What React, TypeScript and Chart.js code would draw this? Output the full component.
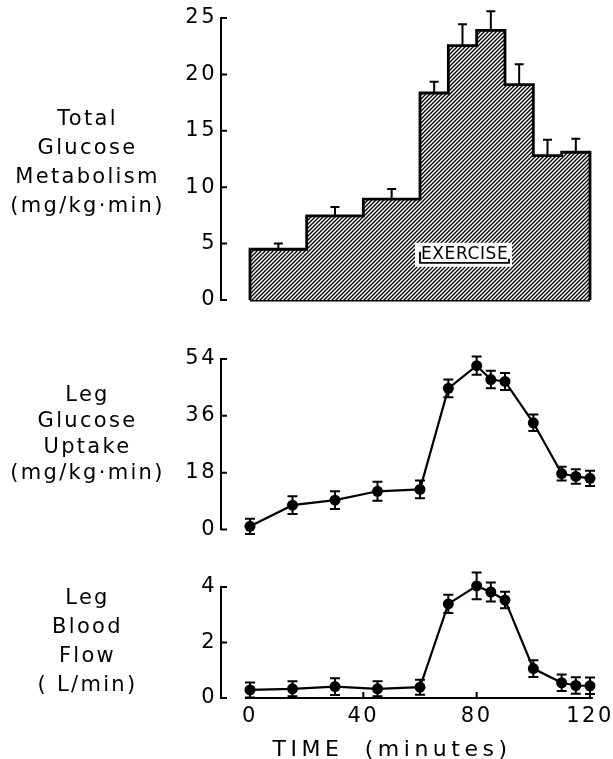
import React, { useEffect, useRef } from 'react';
import { Chart, registerables } from 'chart.js';

Chart.register(...registerables);

const FONT = "'DejaVu Sans', sans-serif";

// ---- shared time axis ----
const timeMin = -10.235;
const timeMax = 122.12;
const timeTicks = [0, 40, 80, 120];
const timeAxisFrom = -1.8;
const timeAxisTo = 121;
const timeTitle = 'TIME (minutes)';

// ---- Total glucose metabolism (histogram) ----
const binStarts = [0, 20, 40, 60, 70, 80, 90, 100, 110];
const binEnd = 120;
const totalGlucose = [4.5, 7.45, 8.95, 18.35, 22.55, 23.9, 19.1, 12.8, 13.1];
const totalGlucoseErr = [0.5, 0.8, 0.9, 1.0, 1.9, 1.7, 1.8, 1.4, 1.2];
const totalTicks = [0, 5, 10, 15, 20, 25];
const totalLabel = ['Total', 'Glucose', 'Metabolism', '(mg/kg·min)'];

const exerciseStart = 60;
const exerciseEnd = 90;
const exerciseLevel = 3.3;
const exerciseText = 'EXERCISE';

// ---- Leg glucose uptake ----
const sampleTimes = [0, 15, 30, 45, 60, 70, 80, 85, 90, 100, 110, 115, 120];
const legUptake = [1.0, 7.7, 9.3, 12.1, 12.7, 44.7, 51.9, 47.5, 46.9, 33.8, 17.7, 16.8, 16.2];
const legUptakeErr = [2.4, 2.8, 2.8, 3.0, 2.8, 2.8, 2.9, 2.8, 2.7, 2.6, 2.2, 2.3, 2.4];
const uptakeTicks = [0, 18, 36, 54];
const uptakeLabel = ['Leg', 'Glucose', 'Uptake', '(mg/kg·min)'];

// ---- Leg blood flow ----
const bloodFlow = [0.29, 0.33, 0.41, 0.33, 0.39, 3.39, 4.04, 3.82, 3.53, 1.06, 0.55, 0.45, 0.44];
const bloodFlowErr = [0.27, 0.27, 0.3, 0.27, 0.27, 0.33, 0.48, 0.34, 0.3, 0.3, 0.3, 0.3, 0.3];
const flowTicks = [0, 2, 4];
const flowLabel = ['Leg', 'Blood', 'Flow', '( L/min)'];

function makeHatch(): CanvasPattern | string {
  const p = document.createElement('canvas');
  p.width = 4;
  p.height = 4;
  const c = p.getContext('2d');
  if (!c) return '#888';
  c.fillStyle = '#fff';
  c.fillRect(0, 0, 4, 4);
  c.strokeStyle = '#000';
  c.lineWidth = 1.35;
  c.beginPath();
  c.moveTo(0, 4);
  c.lineTo(4, 0);
  c.moveTo(-1, 1);
  c.lineTo(1, -1);
  c.moveTo(3, 5);
  c.lineTo(5, 3);
  c.stroke();
  const pat = c.createPattern(p, 'repeat');
  return pat || '#888';
}

function errorBarPlugin(xs: number[], ys: number[], errs: number[], upOnly: boolean, cap: number) {
  return {
    id: 'errorBars',
    afterDatasetsDraw(chart: any) {
      const { ctx, scales } = chart;
      const x = scales.x;
      const y = scales.y;
      ctx.save();
      ctx.strokeStyle = '#000';
      ctx.lineWidth = 2;
      xs.forEach((xv, i) => {
        const px = x.getPixelForValue(xv);
        const top = y.getPixelForValue(ys[i] + errs[i]);
        const bot = upOnly ? y.getPixelForValue(ys[i]) : y.getPixelForValue(ys[i] - errs[i]);
        ctx.beginPath();
        ctx.moveTo(px, bot);
        ctx.lineTo(px, top);
        ctx.moveTo(px - cap, top);
        ctx.lineTo(px + cap, top);
        if (!upOnly) {
          ctx.moveTo(px - cap, bot);
          ctx.lineTo(px + cap, bot);
        }
        ctx.stroke();
      });
      ctx.restore();
    },
  };
}

function axisPlugin(withX: boolean) {
  return {
    id: 'inwardAxes',
    beforeDraw(chart: any) {
      (chart.ctx as any).letterSpacing = '2.5px';
    },
    afterDraw(chart: any) {
      const { ctx, chartArea, scales } = chart;
      const x = scales.x;
      const y = scales.y;
      ctx.save();
      ctx.strokeStyle = '#000';
      ctx.lineWidth = 2;
      ctx.beginPath();
      y.ticks.forEach((t: any) => {
        const py = y.getPixelForValue(t.value);
        ctx.moveTo(chartArea.left, py);
        ctx.lineTo(chartArea.left + 6, py);
      });
      if (withX) {
        const py = chartArea.bottom;
        ctx.moveTo(x.getPixelForValue(timeAxisFrom), py);
        ctx.lineTo(x.getPixelForValue(timeAxisTo), py);
        timeTicks.forEach((v) => {
          const px = x.getPixelForValue(v);
          ctx.moveTo(px, py);
          ctx.lineTo(px, py - 6);
        });
      }
      ctx.stroke();
      ctx.restore();
    },
  };
}

const exercisePlugin = {
  id: 'exercise',
  afterDatasetsDraw(chart: any) {
    const { ctx, scales } = chart;
    const x = scales.x;
    const y = scales.y;
    const x0 = x.getPixelForValue(exerciseStart);
    const x1 = x.getPixelForValue(exerciseEnd);
    const by = y.getPixelForValue(exerciseLevel);
    ctx.save();
    ctx.fillStyle = '#fff';
    ctx.fillRect(x0 - 5, by - 20, x1 - x0 + 12, 24);
    ctx.fillStyle = '#000';
    ctx.font = `17px ${FONT}`;
    (ctx as any).letterSpacing = '0.6px';
    ctx.textAlign = 'left';
    ctx.textBaseline = 'alphabetic';
    ctx.fillText(exerciseText, x0 + 1, by - 3.5);
    ctx.strokeStyle = '#000';
    ctx.lineWidth = 1.8;
    ctx.beginPath();
    ctx.moveTo(x0, by - 11);
    ctx.lineTo(x0, by);
    ctx.lineTo(x1 + 4, by);
    ctx.lineTo(x1 + 4, by - 4);
    ctx.stroke();
    ctx.restore();
  },
};

function yScale(ticks: number[], pad = 4) {
  return {
    type: 'linear' as const,
    min: ticks[0],
    max: ticks[ticks.length - 1],
    afterFit: (s: any) => {
      s.width = 221;
      s.paddingTop = 0;
      s.paddingBottom = 0;
    },
    afterBuildTicks: (s: any) => {
      s.ticks = ticks.map((v) => ({ value: v }));
    },
    grid: { display: false, drawTicks: false },
    border: { display: true, color: '#000', width: 2 },
    ticks: {
      color: '#000',
      font: { family: FONT, size: 21 },
      padding: pad,
    },
  };
}

function xScaleHidden() {
  return {
    type: 'linear' as const,
    min: timeMin,
    max: timeMax,
    display: false,
  };
}

export default function App() {
  const topRef = useRef<HTMLCanvasElement>(null);
  const midRef = useRef<HTMLCanvasElement>(null);
  const botRef = useRef<HTMLCanvasElement>(null);

  useEffect(() => {
    const charts: Chart[] = [];

    // ---------- top: histogram ----------
    const stepPts: { x: number; y: number }[] = [{ x: binStarts[0], y: 0 }];
    binStarts.forEach((s, i) => stepPts.push({ x: s, y: totalGlucose[i] }));
    stepPts.push({ x: binEnd, y: totalGlucose[totalGlucose.length - 1] });
    stepPts.push({ x: binEnd, y: 0 });
    const centers = binStarts.map((s, i) => (s + (i + 1 < binStarts.length ? binStarts[i + 1] : binEnd)) / 2);

    if (topRef.current) {
      charts.push(
        new Chart(topRef.current, {
          type: 'line',
          data: {
            datasets: [
              {
                data: stepPts,
                stepped: 'before',
                borderColor: '#000',
                borderWidth: 2.8,
                backgroundColor: makeHatch() as any,
                fill: 'origin',
                pointRadius: 0,
                clip: false as any,
              },
              {
                data: [
                  { x: binStarts[0], y: 0 },
                  { x: binEnd, y: 0 },
                ],
                borderColor: '#000',
                borderWidth: 2.8,
                fill: false,
                pointRadius: 0,
                clip: false as any,
              },
            ],
          },
          options: {
            animation: false,
            responsive: false,
            layout: { padding: { top: 18, bottom: 20, left: 0, right: 17 } },
            plugins: { legend: { display: false }, tooltip: { enabled: false } },
            scales: { x: xScaleHidden(), y: yScale(totalTicks) as any },
          },
          plugins: [axisPlugin(false), exercisePlugin, errorBarPlugin(centers, totalGlucose, totalGlucoseErr, true, 4.5)],
        })
      );
    }

    const pointDs = (vals: number[]) => ({
      data: sampleTimes.map((t, i) => ({ x: t, y: vals[i] })),
      borderColor: '#000',
      borderWidth: 2.2,
      pointRadius: 5.5,
      pointBackgroundColor: '#000',
      pointBorderWidth: 0,
      fill: false,
      tension: 0,
      clip: false as any,
    });

    if (midRef.current) {
      charts.push(
        new Chart(midRef.current, {
          type: 'line',
          data: { datasets: [pointDs(legUptake)] },
          options: {
            animation: false,
            responsive: false,
            layout: { padding: { top: 29, bottom: 20.5, left: 0, right: 17 } },
            plugins: { legend: { display: false }, tooltip: { enabled: false } },
            scales: { x: xScaleHidden(), y: yScale(uptakeTicks) as any },
          },
          plugins: [axisPlugin(false), errorBarPlugin(sampleTimes, legUptake, legUptakeErr, false, 5)],
        })
      );
    }

    if (botRef.current) {
      charts.push(
        new Chart(botRef.current, {
          type: 'line',
          data: { datasets: [pointDs(bloodFlow)] },
          options: {
            animation: false,
            responsive: false,
            layout: { padding: { top: 27, bottom: 0, left: 0, right: 17 } },
            plugins: { legend: { display: false }, tooltip: { enabled: false } },
            scales: {
              x: {
                type: 'linear',
                min: timeMin,
                max: timeMax,
                afterFit: (s: any) => {
                  s.height = 61;
                  s.paddingLeft = 0;
                  s.paddingRight = 0;
                },
                afterBuildTicks: (s: any) => {
                  s.ticks = timeTicks.map((v) => ({ value: v }));
                },
                grid: { display: false, drawTicks: false },
                border: { display: false },
                ticks: {
                  color: '#000',
                  font: { family: FONT, size: 21 },
                  padding: 6,
                  maxRotation: 0,
                  autoSkip: false,
                },
              },
              y: yScale(flowTicks) as any,
            },
          },
          plugins: [axisPlugin(true), errorBarPlugin(sampleTimes, bloodFlow, bloodFlowErr, false, 5)],
        })
      );
    }

    return () => {
      charts.forEach((c) => c.destroy());
    };
  }, []);

  const labelBlock = (lines: string[], top: number, lh: number) => (
    <div
      style={{
        position: 'absolute',
        left: 0,
        top,
        width: 175,
        textAlign: 'center',
        fontFamily: FONT,
        fontSize: 21,
        lineHeight: `${lh}px`,
        letterSpacing: '2.3px',
        color: '#000',
        whiteSpace: 'pre',
      }}
    >
      {lines.map((l, i) => (
        <div key={i}>{l}</div>
      ))}
    </div>
  );

  const canvasStyle = (top: number, h: number): React.CSSProperties => ({
    position: 'absolute',
    left: 0,
    top,
    width: 613,
    height: h,
    display: 'block',
  });

  return (
    <div style={{ position: 'absolute', left: 0, top: 0, width: 613, height: 759, background: '#fff', overflow: 'hidden' }}>
      <canvas ref={topRef} width={613} height={320} style={canvasStyle(0, 320)} />
      <canvas ref={midRef} width={613} height={220} style={canvasStyle(330, 220)} />
      <canvas ref={botRef} width={613} height={199} style={canvasStyle(560, 199)} />
      {labelBlock(totalLabel, 104, 29)}
      {labelBlock(uptakeLabel, 381, 26)}
      {labelBlock(flowLabel, 583, 29)}
      <div
        style={{
          position: 'absolute',
          left: 242,
          top: 736,
          width: 300,
          textAlign: 'center',
          fontFamily: FONT,
          fontSize: 22,
          lineHeight: '26px',
          letterSpacing: '4.5px',
          wordSpacing: '10px',
          color: '#000',
          whiteSpace: 'pre',
        }}
      >
        {timeTitle}
      </div>
    </div>
  );
}
